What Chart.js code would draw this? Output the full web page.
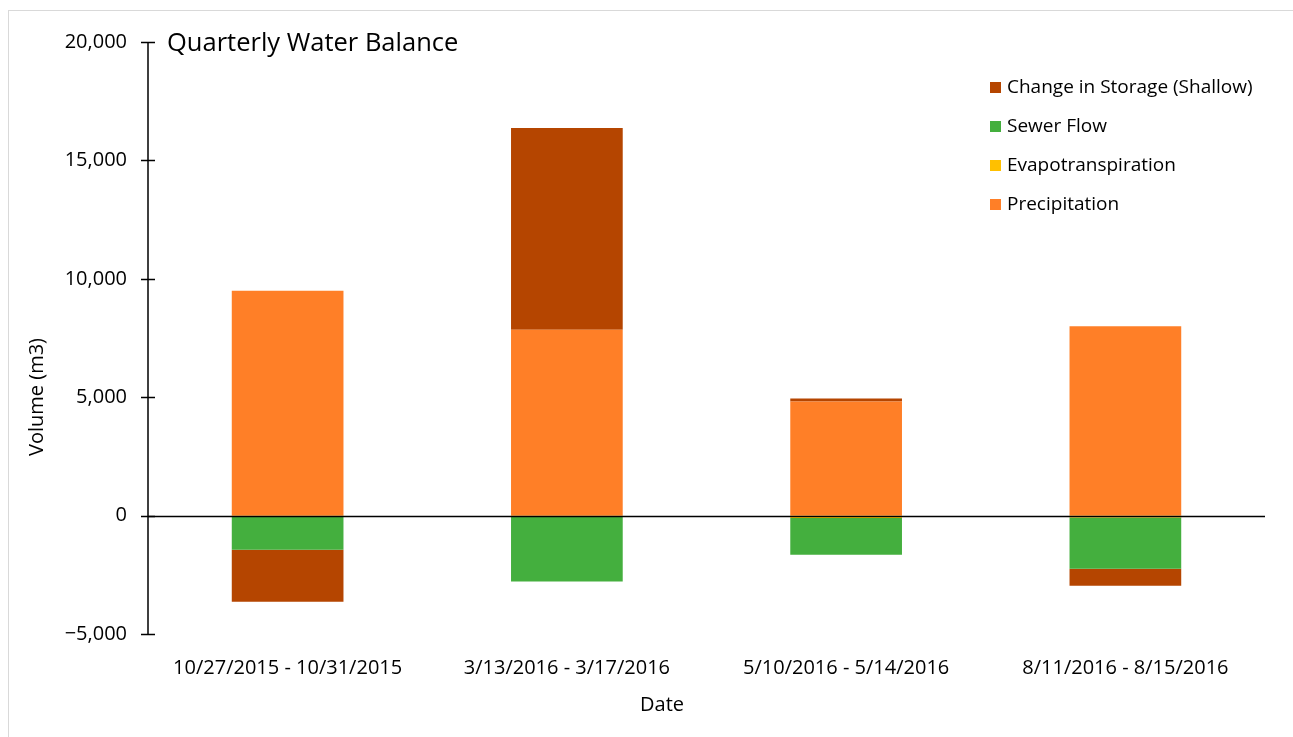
<!DOCTYPE html>
<html>
<head>
<meta charset="utf-8">
<script src="https://cdn.jsdelivr.net/npm/chart.js@4"></script>
<style>
  body { margin: 0; background: #fff; font-family: "Open Sans", sans-serif; }
  #wrap { position: relative; width: 1293px; height: 737px; overflow: hidden; }
  #frame { position: absolute; left: 8px; top: 10px; width: 1400px; height: 800px; border: 1.5px solid #d9d9d9; }
  #title { position: absolute; left: 167px; top: 24px; font-size: 25.5px; color: #000; }
  #legend { position: absolute; left: 990px; top: 73px; font-size: 19px; color: #000; }
  #legend div { height: 39px; line-height: 26px; white-space: nowrap; }
  #legend span.box { display: inline-block; width: 11px; height: 11px; margin-right: 6px; vertical-align: 0px; }
</style>
</head>
<body>
<div id="wrap">
  <div id="frame"></div>
  <canvas id="chart" width="1293" height="737"></canvas>
  <div id="title">Quarterly Water Balance</div>
  <div id="legend"></div>
</div>
<script>
// categories and series (m3)
let dates = ["10/27/2015 - 10/31/2015", "3/13/2016 - 3/17/2016", "5/10/2016 - 5/14/2016", "8/11/2016 - 8/15/2016"];
let precipitation = [9500, 7850, 4820, 8000];
let evapotranspiration = [-50, -60, -100, -80];
let sewerFlow = [-1390, -2725, -1550, -2160];
let storageChange = [-2200, 8520, 120, -720];

let colors = { precip: "#FF7F27", evap: "#FFC000", sewer: "#44AF3E", storage: "#B54500" };
let axisFont = "20px 'Open Sans', sans-serif";

// crossing tick marks, axis line, zero line and axis titles like excel
const axisBits = {
  id: "axisBits",
  afterDatasetsDraw(chart) {
    const ctx = chart.ctx;
    const y = chart.scales.y;
    const area = chart.chartArea;
    ctx.save();
    ctx.strokeStyle = "#000";
    ctx.lineWidth = 1.5;
    // zero line on top of bars
    let y0 = Math.round(y.getPixelForValue(0)) + 0.5;
    ctx.beginPath();
    ctx.moveTo(area.left, y0);
    ctx.lineTo(area.right, y0);
    ctx.stroke();
    // axis + ticks
    ctx.beginPath();
    ctx.moveTo(area.left, area.top);
    ctx.lineTo(area.left, area.bottom);
    y.ticks.forEach(t => {
      let p = Math.round(y.getPixelForValue(t.value)) + 0.5;
      ctx.moveTo(area.left - 7, p);
      ctx.lineTo(area.left + 7, p);
    });
    ctx.stroke();
    // axis titles, centred on the whole chart frame (which runs past the picture)
    ctx.fillStyle = "#000";
    ctx.font = axisFont;
    ctx.textAlign = "center";
    ctx.textBaseline = "middle";
    ctx.fillText("Date", 662, 705);
    ctx.translate(37, 397);
    ctx.rotate(-Math.PI / 2);
    ctx.fillText("Volume (m3)", 0, 0);
    ctx.restore();
  }
};

Chart.defaults.font.family = "'Open Sans', sans-serif";
Chart.defaults.color = "#000";

let chart = new Chart(document.getElementById("chart"), {
  type: "bar",
  data: {
    labels: dates,
    datasets: [
      { label: "Precipitation", data: precipitation, backgroundColor: colors.precip },
      { label: "Evapotranspiration", data: evapotranspiration, backgroundColor: colors.evap },
      { label: "Sewer Flow", data: sewerFlow, backgroundColor: colors.sewer },
      { label: "Change in Storage (Shallow)", data: storageChange, backgroundColor: colors.storage }
    ]
  },
  options: {
    responsive: false,
    animation: false,
    layout: { padding: { left: 10, right: 28, top: 42, bottom: 0 } },
    datasets: { bar: { categoryPercentage: 0.4, barPercentage: 1, borderWidth: 0 } },
    plugins: {
      legend: { display: false },
      tooltip: { enabled: false }
    },
    scales: {
      x: {
        stacked: true,
        grid: { display: false },
        border: { display: false },
        ticks: { font: { size: 20 }, padding: 14, maxRotation: 0 },
        afterFit(scale) { scale.height = 103; }
      },
      y: {
        stacked: true,
        min: -5000,
        max: 20000,
        grid: { display: false, drawTicks: false },
        border: { display: false },
        ticks: { stepSize: 5000, font: { size: 20 }, padding: 21,
          callback: v => v < 0 ? "\u2212" + Math.abs(v).toLocaleString("en-US") : v.toLocaleString("en-US") },
        afterFit(scale) { scale.width = 138; }
      }
    }
  },
  plugins: [axisBits]
});

// legend drawn as html, reversed like the original
let leg = document.getElementById("legend");
chart.data.datasets.slice().reverse().forEach(ds => {
  let row = document.createElement("div");
  row.innerHTML = '<span class="box" style="background:' + ds.backgroundColor + '"></span>' + ds.label;
  leg.appendChild(row);
});
</script>
</body>
</html>
